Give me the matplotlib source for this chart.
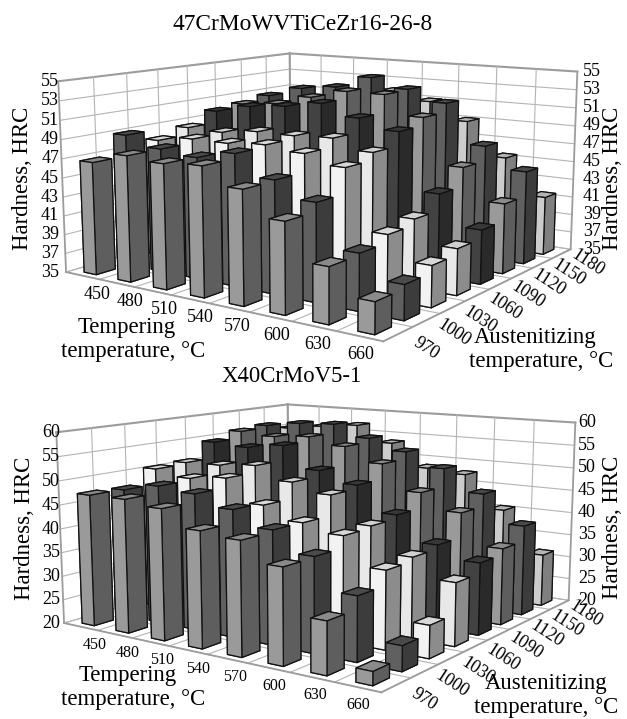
"""Two 3D bar charts of hardness vs tempering and austenitizing temperature."""
import matplotlib
from mpl_toolkits.mplot3d import proj3d

matplotlib.use("Agg")
import matplotlib.pyplot as plt  # noqa: E402

plt.rcParams["font.family"] = ["Liberation Serif", "DejaVu Serif"]

TEMPERING = [450, 480, 510, 540, 570, 600, 630, 660]
AUSTENITIZING = [970, 1000, 1030, 1060, 1090, 1120, 1150, 1180]

# one row per austenitizing temperature, values in tempering order
HRC_47 = [
    [46.8, 48.0, 47.7, 48.0, 46.3, 43.9, 40.4, 38.0],
    [49.0, 48.0, 47.6, 48.5, 46.4, 44.8, 40.6, 38.4],
    [47.8, 48.4, 48.4, 48.7, 48.3, 47.4, 41.4, 39.1],
    [48.6, 48.5, 49.0, 49.0, 49.2, 48.2, 42.0, 39.7],
    [49.9, 50.8, 51.2, 51.9, 50.7, 49.7, 43.7, 40.6],
    [50.2, 50.6, 51.7, 52.7, 52.7, 50.6, 45.7, 42.4],
    [50.7, 51.9, 52.4, 53.8, 52.8, 51.6, 47.3, 45.0],
    [49.0, 50.0, 51.0, 51.8, 50.9, 49.0, 45.3, 41.4],
]
HRC_X40 = [
    [47.4, 47.5, 46.6, 43.3, 42.6, 38.8, 30.2, 22.6],
    [47.2, 48.9, 48.2, 46.0, 43.0, 39.0, 32.8, 24.9],
    [50.5, 49.3, 50.2, 45.5, 42.9, 41.4, 35.8, 26.5],
    [50.8, 51.0, 51.7, 49.0, 47.2, 41.8, 36.6, 32.8],
    [54.4, 53.9, 55.0, 50.3, 48.0, 42.6, 37.4, 34.9],
    [56.0, 55.4, 56.0, 54.5, 51.4, 46.0, 42.6, 36.1],
    [56.5, 57.6, 58.0, 55.4, 53.0, 50.0, 45.3, 39.3],
    [55.0, 56.0, 56.9, 53.3, 48.2, 47.5, 40.3, 31.3],
]

# (front, side, top) shades per austenitizing row
ROW_SHADES = [
    ("#9a9a9a", "#5e5e5e", "#8a8a8a"),
    ("#606060", "#3c3c3c", "#4a4a4a"),
    ("#f2f2f2", "#8c8c8c", "#d8d8d8"),
    ("#e8e8e8", "#8c8c8c", "#d0d0d0"),
    ("#424242", "#2a2a2a", "#383838"),
    ("#9a9a9a", "#5e5e5e", "#8a8a8a"),
    ("#606060", "#3c3c3c", "#4a4a4a"),
    ("#cccccc", "#808080", "#b4b4b4"),
]

GRID = "#b4b4b4"
FRAME = "#9c9c9c"
BAR_DX, BAR_DY = 0.36, 0.56
LABEL_SIZE = 16.4
W, H = 627.0, 719.0
SIDE = 700.0


def draw_panel(fig, cx, cy, values, zticks, left_x, right_x, xtick_size):
    rect = [(cx - SIDE / 2) / W, 1 - (cy + SIDE / 2) / H, SIDE / W, SIDE / H]
    ax = fig.add_axes(rect, projection="3d")
    ax.computed_zorder = False
    ax.set_proj_type("persp", focal_length=0.32)
    ax.view_init(elev=10.5, azim=-55)
    ax.set_box_aspect((1, 1, 0.51), zoom=0.765)
    ax.set_axis_off()
    ax.patch.set_alpha(0)
    nx, ny = len(TEMPERING), len(AUSTENITIZING)
    zmin, zmax = zticks[0], zticks[-1]
    ax.set_xlim(0, nx)
    ax.set_ylim(0, ny)
    ax.set_zlim(zmin, zmax)

    # walls and floor
    for z in zticks:
        top = z == zmax
        ax.plot([0, 0], [0, ny], [z, z], color=FRAME if top else GRID, lw=1.5 if top else 0.8, zorder=1)
        ax.plot([0, nx], [ny, ny], [z, z], color=FRAME if top else GRID, lw=1.5 if top else 0.8, zorder=1)
    for k in range(nx + 1):
        ax.plot([k, k], [ny, ny], [zmin, zmax], color=FRAME if k in (0, nx) else GRID,
                lw=1.3 if k in (0, nx) else 0.8, zorder=1)
        ax.plot([k, k], [0, ny], [zmin, zmin], color=GRID, lw=0.8, zorder=1)
    for k in range(ny + 1):
        ax.plot([0, 0], [k, k], [zmin, zmax], color=FRAME if k in (0, ny) else GRID,
                lw=1.3 if k in (0, ny) else 0.8, zorder=1)
        ax.plot([0, nx], [k, k], [zmin, zmin], color=GRID, lw=0.8, zorder=1)
    ax.plot([nx, nx], [0, ny], [zmin, zmin], color=FRAME, lw=1.3, zorder=1)
    ax.plot([0, nx], [0, 0], [zmin, zmin], color=FRAME, lw=1.3, zorder=1)

    # bars, painted back to front
    order = 10
    for j in range(ny - 1, -1, -1):
        front, side, top = ROW_SHADES[j]
        for i in range(nx):
            # -z, +z, -y, +y, -x, +x
            colors = [side, top, front, side, side, side]
            ax.bar3d(i + 0.5 - BAR_DX / 2, j + 0.5 - BAR_DY / 2, zmin, BAR_DX, BAR_DY,
                     values[j][i] - zmin, color=colors, shade=False,
                     edgecolor="#111111", linewidth=0.9, zorder=order)
            order += 1

    # tick labels go on the figure, at the projected spot of each tick
    ax.apply_aspect()
    proj = ax.get_proj()

    def to_pixels(x3, y3, z3):
        px, py, _ = proj3d.proj_transform(x3, y3, z3, proj)
        return ax.transData.transform((px, py))

    for i, t in enumerate(TEMPERING):
        xp, yp = to_pixels(1.75 + i * 0.9, -0.8, zmin)
        fig.text(xp / W, yp / H, str(t), ha="center", va="center", fontsize=xtick_size)
    for j, t in enumerate(AUSTENITIZING):
        xp, yp = to_pixels(nx + 0.8, j + 0.1, zmin)
        fig.text(xp / W, yp / H, str(t), ha="center", va="center", fontsize=13, rotation=-33)

    # the hardness labels stand in straight columns beside the slanted wall edges
    for z in zticks:
        for x3, y3, xpix, ha in ((0, 0, left_x, "right"), (nx, ny, right_x, "left")):
            yp = to_pixels(x3, y3, z)[1]
            fig.text(xpix / W, yp / H, str(z), ha=ha, va="center", fontsize=13)
    return ax


fig = plt.figure(figsize=(6.27, 7.19), dpi=100)
draw_panel(fig, 318, 179, HRC_47, list(range(35, 56, 2)), 59, 583, 13)
draw_panel(fig, 316, 530, HRC_X40, list(range(20, 61, 5)), 60, 578, 11.5)


def label(x, y, s, **kw):
    kw.setdefault("fontsize", LABEL_SIZE)
    fig.text(x / W, 1 - y / H, s, ha="center", va="center", **kw)


label(303, 25, "47CrMoWVTiCeZr16-26-8", fontsize=16.8)
label(292, 376, "X40CrMoV5-1")
label(23, 178, "Hardness, HRC", rotation=90)
label(612, 178, "Hardness, HRC", rotation=90)
label(25, 528, "Hardness, HRC", rotation=90)
label(612, 527, "Hardness, HRC", rotation=90)
label(127, 328, "Tempering")
label(133, 352, "temperature, °C")
label(535, 337, "Austenitizing")
label(541, 362, "temperature, °C")
label(128, 675, "Tempering")
label(133, 699, "temperature, °C")
label(546, 683, "Austenitizing")
label(546, 708, "temperature, °C")

fig.savefig("out.png", dpi=100)
